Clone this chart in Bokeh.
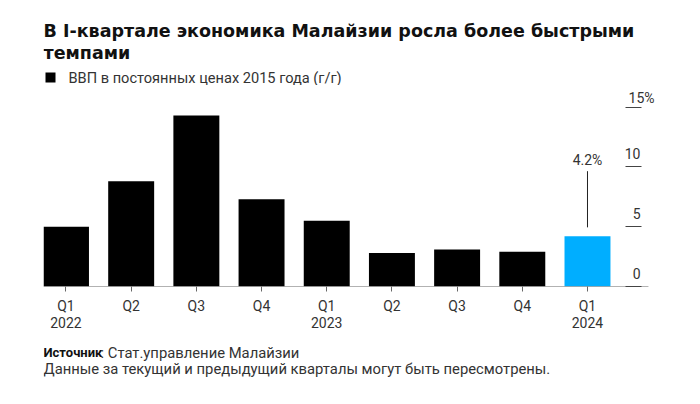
from bokeh.plotting import figure
from bokeh.models import (Range1d, FixedTicker, Label, LabelSet, ColumnDataSource)
from bokeh.layouts import column
from bokeh.core.properties import value
from bokeh.embed import file_html
from bokeh.resources import INLINE

# ---- data ----
quarters = ["Q1", "Q2", "Q3", "Q4", "Q1", "Q2", "Q3", "Q4", "Q1"]
years = ["2022", "", "", "", "2023", "", "", "", "2024"]
gdp_yoy = [5.0, 8.8, 14.3, 7.3, 5.5, 2.8, 3.1, 2.9, 4.2]
y_ticks = [0, 5, 10, 15]
y_tick_labels = ["0", "5", "10", "15%"]
title_lines = ["В I-квартале экономика Малайзии росла более быстрыми", "темпами"]
legend_label = "ВВП в постоянных ценах 2015 года (г/г)"
source_bold = "Источник"
source_rest = ": Стат.управление Малайзии"
note_text = "Данные за текущий и предыдущий кварталы могут быть пересмотрены."

BASE = "#000000"
HIGHLIGHT = "#00AEFF"
FONT = "Roboto"
TXT = "#333333"
W = 700
LEFT, RIGHT = 43, 40          # borders shared by all stacked figures

n = len(gdp_yoy)
last = n - 1
xs = list(range(n))
colors = [HIGHLIGHT if i == last else BASE for i in xs]


def blank_fig(h):
    f = figure(width=W, height=h, x_range=Range1d(LEFT, W - RIGHT), y_range=Range1d(h, 0),
               output_backend="svg", toolbar_location=None, x_axis_type=None, y_axis_type=None,
               min_border_left=LEFT, min_border_right=RIGHT, min_border_top=0, min_border_bottom=0)
    f.title.visible = False
    f.outline_line_color = None
    f.xgrid.visible = False
    f.ygrid.visible = False
    return f


# ---- header ----
hdr = blank_fig(85)
hdr.text(x=[43, 43], y=[30, 52], text=title_lines, text_font=value("DejaVu Sans"),
         text_font_style="bold", text_font_size="17.5px", text_baseline="middle",
         text_color="#111111")
hdr.scatter(x=[50], y=[77], marker="square", size=10, fill_color=BASE, line_color=None)
hdr.text(x=[68], y=[77], text=[legend_label], text_font=value(FONT), text_font_size="14.6px",
         text_baseline="middle", text_color=TXT)

# ---- main chart ----
p = figure(width=W, height=255, x_range=Range1d(-0.345, 9.12), y_range=Range1d(0, 16.82),
           output_backend="svg", toolbar_location=None, y_axis_location="right",
           min_border_left=LEFT, min_border_right=RIGHT, min_border_top=0, min_border_bottom=54)
p.title.visible = False
p.outline_line_color = None
p.xgrid.visible = False
p.ygrid.visible = False

src = ColumnDataSource(dict(x=xs, top=gdp_yoy, color=colors))
p.vbar(x="x", top="top", width=0.705, fill_color="color", line_color=None, source=src)

# baseline (axis line) ending a little after the last bar
p.segment(x0=[-0.345], y0=[0], x1=[8.935], y1=[0], line_color="#666666", line_width=1)

xa = p.xaxis[0]
xa.ticker = FixedTicker(ticks=xs)
xa.major_label_overrides = {i: (f"{q}\n{y}" if y else q) for i, (q, y) in enumerate(zip(quarters, years))}
xa.axis_line_color = None
xa.major_tick_line_color = "#666666"
xa.major_tick_in = 0
xa.major_tick_out = 5
xa.minor_tick_line_color = None
xa.major_label_standoff = 6
xa.major_label_text_font = FONT
xa.major_label_text_font_size = "14px"
xa.major_label_text_color = TXT
xa.major_label_text_line_height = 1.1

ya = p.yaxis[0]
ya.ticker = FixedTicker(ticks=y_ticks)
ya.axis_line_color = None
ya.major_tick_in = 35
ya.major_tick_out = -19
ya.major_tick_line_color = "#444444"
ya.minor_tick_line_color = None
ya.major_label_text_color = None
ya.major_label_text_font_size = "1px"

ylab = ColumnDataSource(dict(y=y_ticks[:-1], text=y_tick_labels[:-1]))
p.add_layout(LabelSet(x=597, y="y", text="text", source=ylab, x_units="screen",
                      text_align="right", text_baseline="alphabetic", y_offset=8,
                      text_font=value(FONT), text_font_size="14px", text_color=TXT))
p.add_layout(Label(x=611, y=y_ticks[-1], x_units="screen", text=y_tick_labels[-1],
                   text_align="right", text_baseline="alphabetic", y_offset=9,
                   text_font=FONT, text_font_size="14px", text_color=TXT))

top_ann = gdp_yoy[last] + 5.45
p.segment(x0=[last], y0=[gdp_yoy[last] + 0.75], x1=[last], y1=[top_ann],
          line_color="#222222", line_width=1)
p.add_layout(Label(x=last, y=top_ann, text=f"{gdp_yoy[last]}%", text_align="center",
                   text_baseline="alphabetic", y_offset=11,
                   text_font=FONT, text_font_size="14px", text_color=TXT))

# ---- footer ----
ftr = blank_fig(64)
ftr.text(x=[43], y=[12], text=[source_bold], text_font=value(FONT), text_font_style="bold",
         text_font_size="13px", text_baseline="middle", text_color="#111111")
ftr.text(x=[100], y=[12], text=[source_rest], text_font=value(FONT),
         text_font_size="14.8px", text_baseline="middle", text_color=TXT)
ftr.text(x=[43], y=[28], text=[note_text], text_font=value(FONT),
         text_font_size="14.8px", text_baseline="middle", text_color=TXT)

layout = column(hdr, p, ftr, spacing=0)
open("out.html", "w").write(file_html(layout, INLINE))
